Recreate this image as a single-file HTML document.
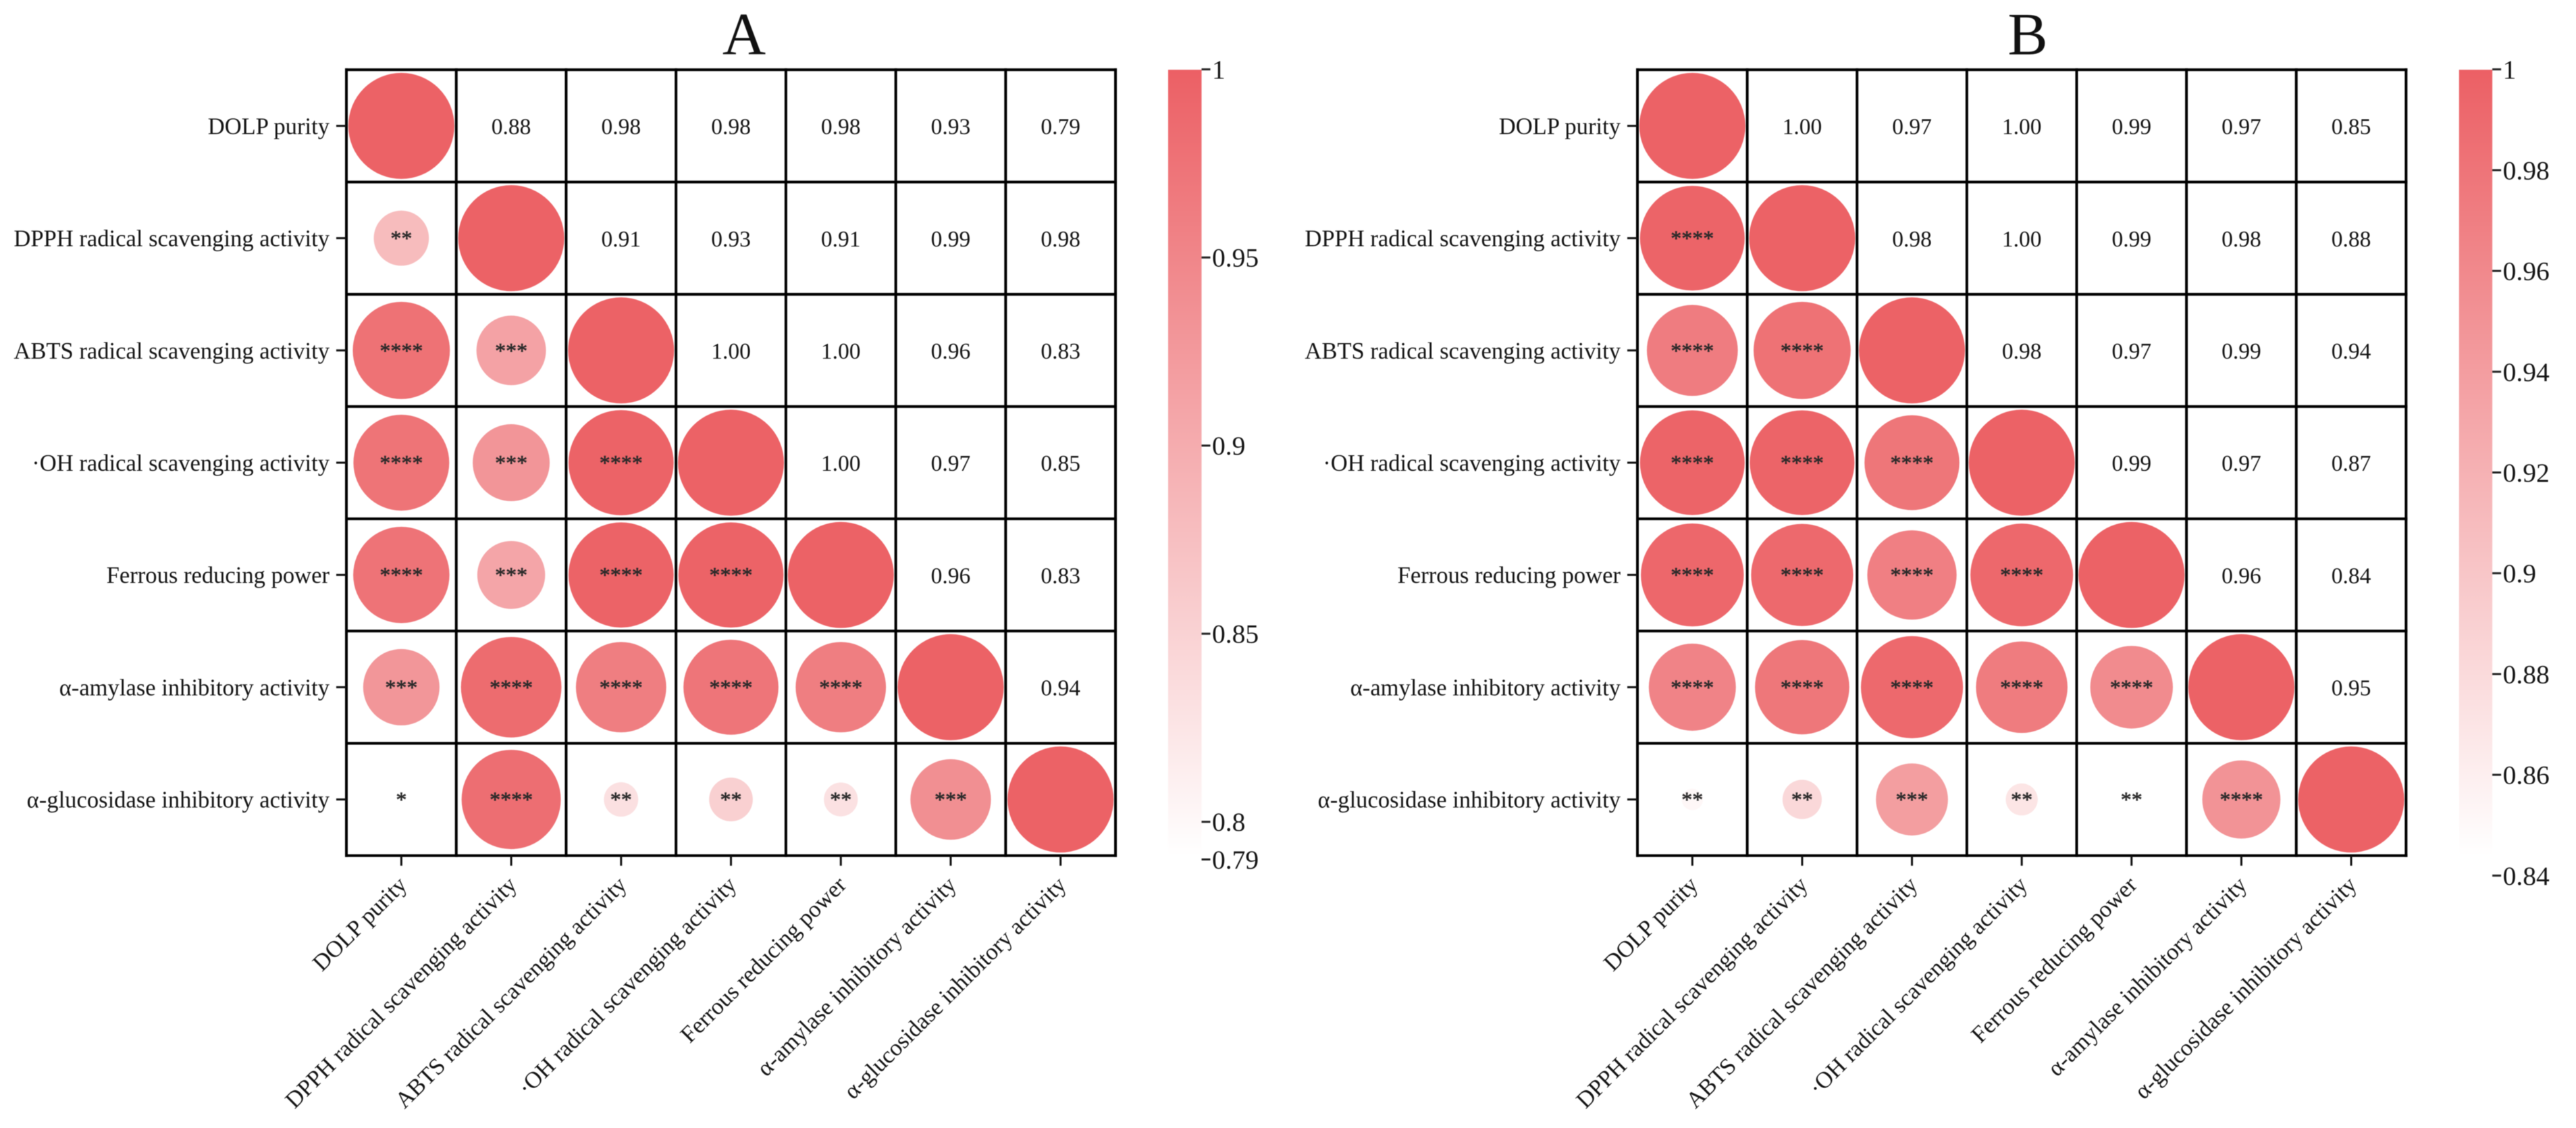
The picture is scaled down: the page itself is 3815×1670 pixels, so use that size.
<!DOCTYPE html>
<html lang="en">
<head>
<meta charset="utf-8">
<title>Correlation matrices A and B</title>
<style>
  html, body { margin: 0; padding: 0; background: #fff; }
  svg { display: block; font-family: "Liberation Serif", "Times New Roman", serif; filter: blur(0.6px); }
</style>
</head>
<body>
<svg id="chart" xmlns="http://www.w3.org/2000/svg" width="3815" height="1670" viewBox="0 0 3815 1670">
  <defs>
    <linearGradient id="bar-gradient" x1="0" y1="0" x2="0" y2="1">
      <stop offset="0" stop-color="#ec6065"></stop>
      <stop offset="1" stop-color="#ffffff"></stop>
    </linearGradient>
  </defs>
  <rect x="0" y="0" width="3815" height="1670" fill="#ffffff"></rect>
</svg>
<script>
const variableLabels = [
  "DOLP purity",
  "DPPH radical scavenging activity",
  "ABTS radical scavenging activity",
  "\u00b7OH radical scavenging activity",
  "Ferrous reducing power",
  "\u03b1-amylase inhibitory activity",
  "\u03b1-glucosidase inhibitory activity"
];

const valuesA = [
  [1, 0.88, 0.979, 0.976, 0.977, 0.93, 0.79],
  [0.88, 1, 0.914, 0.9315, 0.91, 0.987, 0.984],
  [0.979, 0.914, 1, 0.998, 0.998, 0.963, 0.831],
  [0.976, 0.9315, 0.998, 1, 0.998, 0.974, 0.853],
  [0.977, 0.91, 0.998, 0.998, 1, 0.963, 0.83],
  [0.93, 0.987, 0.963, 0.974, 0.963, 1, 0.94],
  [0.79, 0.984, 0.831, 0.853, 0.83, 0.94, 1]
];
const starsA = [
  [],
  [2],
  [4, 3],
  [4, 3, 4],
  [4, 3, 4, 4],
  [3, 4, 4, 4, 4],
  [1, 4, 2, 2, 2, 3]
];
const colorbarTicksA = [1, 0.95, 0.9, 0.85, 0.8, 0.79];

const valuesB = [
  [1, 0.9976, 0.973, 0.9976, 0.9945, 0.966, 0.848],
  [0.9976, 1, 0.984, 0.9976, 0.993, 0.979, 0.88],
  [0.973, 0.984, 1, 0.98, 0.97, 0.993, 0.939],
  [0.9976, 0.9976, 0.98, 1, 0.994, 0.974, 0.867],
  [0.9945, 0.993, 0.97, 0.994, 1, 0.958, 0.84],
  [0.966, 0.979, 0.993, 0.974, 0.958, 1, 0.95],
  [0.848, 0.88, 0.939, 0.867, 0.84, 0.95, 1]
];
const starsB = [
  [],
  [4],
  [4, 4],
  [4, 4, 4],
  [4, 4, 4, 4],
  [4, 4, 4, 4, 4],
  [2, 2, 3, 2, 2, 4]
];
const colorbarTicksB = [1, 0.98, 0.96, 0.94, 0.92, 0.9, 0.88, 0.86, 0.84];

const minValueA = 0.79;
const minValueB = 0.84;

const svg = document.getElementById('chart');
const NS = 'http://www.w3.org/2000/svg';
const TOP = 103.3, CELL_H = 166.2, N = 7, FULL_D = 157;
const TEXT = '#141414';
const HIGH = [236, 98, 102];

function mk(tag, parent) {
  const el = document.createElementNS(NS, tag);
  parent.appendChild(el);
  return el;
}

function drawPanel(id, title, titleX, left, cellW, values, stars, ticks, minV, barX, barW, pxPerUnit) {
  const colX = i => left + cellW * (i + 0.5);
  const rowY = i => TOP + CELL_H * (i + 0.5);
  const norm = v => Math.max(0, Math.min(1, (v - minV) / (1 - minV)));
  const diameter = v => (0.16 + 0.84 * norm(v)) * FULL_D;
  const color = v => {
    const t = norm(v);
    const mix = c => Math.round(255 + (c - 255) * t);
    return 'rgb(' + mix(HIGH[0]) + ',' + mix(HIGH[1]) + ',' + mix(HIGH[2]) + ')';
  };
  const barY = v => 102.7 + (1 - v) * pxPerUnit;
  const right = left + cellW * N;
  const bottom = TOP + CELL_H * N;

  const g = mk('g', svg);
  
  

  const t = mk('text', g);
  
  
  t.setAttribute('x', titleX);
  t.setAttribute('y', 80.7);
  t.setAttribute('text-anchor', 'middle');
  t.setAttribute('font-size', 89);
  t.setAttribute('fill', '#111');
  t.textContent = title;

  for (let r = 0; r < N; r++) {
    for (let c = 0; c < N; c++) {
      if (c <= r) {
        const circle = mk('circle', g);
        
        
        circle.setAttribute('cx', colX(c));
        circle.setAttribute('cy', rowY(r));
        circle.setAttribute('r', diameter(values[r][c]) / 2);
        circle.setAttribute('fill', color(values[r][c]));
      } else {
        const v = mk('text', g);
        
        
        v.setAttribute('x', colX(c));
        v.setAttribute('y', rowY(r) + 12.2);
        v.setAttribute('text-anchor', 'middle');
        v.setAttribute('font-size', 33.5);
        v.setAttribute('fill', TEXT);
        v.textContent = values[r][c].toFixed(2);
      }
    }
  }

  for (let i = 0; i <= N; i++) {
    const vLine = mk('line', g);
    
    
    vLine.setAttribute('x1', left + cellW * i);
    vLine.setAttribute('x2', left + cellW * i);
    vLine.setAttribute('y1', TOP - 2);
    vLine.setAttribute('y2', bottom + 2);
    vLine.setAttribute('stroke', '#000');
    vLine.setAttribute('stroke-width', 4);
    const hLine = mk('line', g);
    
    
    hLine.setAttribute('x1', left - 2);
    hLine.setAttribute('x2', right + 2);
    hLine.setAttribute('y1', TOP + CELL_H * i);
    hLine.setAttribute('y2', TOP + CELL_H * i);
    hLine.setAttribute('stroke', '#000');
    hLine.setAttribute('stroke-width', 4);
  }

  for (let r = 1; r < N; r++) {
    for (let c = 0; c < r; c++) {
      const s = mk('text', g);
      
      
      s.setAttribute('x', colX(c));
      s.setAttribute('y', rowY(r) + 11);
      s.setAttribute('text-anchor', 'middle');
      s.setAttribute('font-size', 32);
      s.setAttribute('fill', '#2a2a2a');
      s.setAttribute('stroke', '#2a2a2a');
      s.setAttribute('stroke-width', 0.6);
      s.textContent = '*'.repeat(stars[r][c]);
    }
  }

  variableLabels.forEach((label, i) => {
    const yTick = mk('line', g);
    
    
    yTick.setAttribute('x1', left - 15);
    yTick.setAttribute('x2', left);
    yTick.setAttribute('y1', rowY(i));
    yTick.setAttribute('y2', rowY(i));
    yTick.setAttribute('stroke', '#111');
    yTick.setAttribute('stroke-width', 3);

    const yLabel = mk('text', g);
    
    
    yLabel.setAttribute('x', left - 25);
    yLabel.setAttribute('y', rowY(i) + 12);
    yLabel.setAttribute('text-anchor', 'end');
    yLabel.setAttribute('font-size', 34.6);
    yLabel.setAttribute('fill', TEXT);
    yLabel.textContent = label;

    const xTick = mk('line', g);
    
    
    xTick.setAttribute('x1', colX(i));
    xTick.setAttribute('x2', colX(i));
    xTick.setAttribute('y1', bottom);
    xTick.setAttribute('y2', bottom + 15);
    xTick.setAttribute('stroke', '#111');
    xTick.setAttribute('stroke-width', 3);

    const xLabel = mk('text', g);
    
    
    xLabel.setAttribute('transform', 'translate(' + (colX(i) + 10) + ',1312) rotate(-45)');
    xLabel.setAttribute('text-anchor', 'end');
    xLabel.setAttribute('font-size', 34.6);
    xLabel.setAttribute('fill', TEXT);
    xLabel.textContent = label;
  });

  const bar = mk('rect', g);
  
  
  bar.setAttribute('x', barX);
  bar.setAttribute('y', 103.3);
  bar.setAttribute('width', barW);
  bar.setAttribute('height', 1162);
  bar.setAttribute('fill', 'url(#bar-gradient)');

  ticks.forEach(v => {
    const tick = mk('line', g);
    
    
    tick.setAttribute('x1', barX + barW);
    tick.setAttribute('x2', barX + barW + 13);
    tick.setAttribute('y1', barY(v));
    tick.setAttribute('y2', barY(v));
    tick.setAttribute('stroke', '#222');
    tick.setAttribute('stroke-width', 3);

    const lab = mk('text', g);
    
    
    lab.setAttribute('x', barX + barW + 15.5);
    lab.setAttribute('y', barY(v) + 13.5);
    lab.setAttribute('font-size', 39.5);
    lab.setAttribute('fill', TEXT);
    lab.textContent = String(v);
  });
}

drawPanel('a', 'A', 1102, 513, 162.72, valuesA, starsA, colorbarTicksA, minValueA, 1730, 49.5, 5570);
drawPanel('b', 'B', 3003, 2425, 162.62, valuesB, starsB, colorbarTicksB, minValueB, 3641.8, 49.3, 7460);
</script>
</body>
</html>
